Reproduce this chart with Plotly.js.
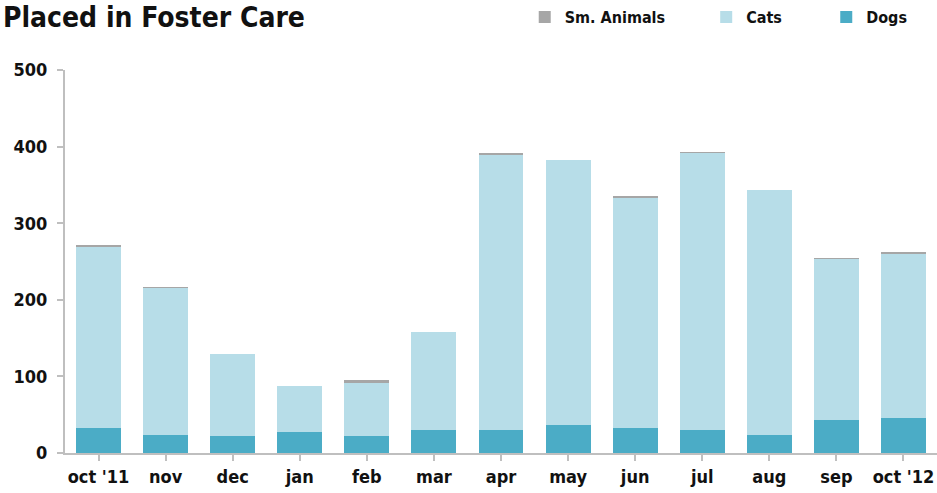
<!DOCTYPE html>
<html>
<head>
<meta charset="utf-8">
<script src="https://cdn.plot.ly/plotly-3.0.1.min.js"></script>
<style>html,body{margin:0;padding:0;background:#fff;}#chart{width:937px;height:493px;}</style>
</head>
<body>
<div id="chart"></div>
<script>
const months = ["oct '11","nov","dec","jan","feb","mar","apr","may","jun","jul","aug","sep","oct '12"];
const dogs = [32, 24, 22, 27, 22, 30, 30, 37, 33, 30, 24, 43, 46];
const cats = [237, 191, 107, 60, 70, 128, 359, 346, 300, 361, 320, 210, 214];
const smAnimals = [2, 2, 0, 0, 3, 0, 2, 0, 2, 2, 0, 2, 2];
const yTicks = [0, 100, 200, 300, 400, 500];

const cond = "'DejaVu Sans Condensed', 'Liberation Sans Narrow', sans-serif";
const legFont = {family: cond, size: 16, color: '#111', weight: 'bold'};

const traces = [
  {type:'bar', name:'Dogs', x:months, y:dogs, marker:{color:'#4BACC6'}, legend:'legend3', hoverinfo:'skip'},
  {type:'bar', name:'Cats', x:months, y:cats, marker:{color:'#B7DDE8'}, legend:'legend2', hoverinfo:'skip'},
  {type:'bar', name:'Sm. Animals', x:months, y:smAnimals, marker:{color:'#A6A6A6'}, legend:'legend', hoverinfo:'skip'}
];

const mkLegend = (xpx) => ({
  x: xpx/937, xref:'paper', xanchor:'left', y: 1, yref:'container', yanchor:'top',
  orientation:'h', font: legFont, bgcolor:'rgba(0,0,0,0)', itemwidth:30, tracegroupgap:0
});

const layout = {
  width: 937, height: 493,
  margin: {l: 65, r: 0, t: 70, b: 40},
  paper_bgcolor: '#fff', plot_bgcolor: '#fff',
  barmode: 'stack', bargap: 0.33,
  showlegend: true,
  legend: mkLegend(494),
  legend2: mkLegend(689),
  legend3: mkLegend(818),
  xaxis: {
    type:'category', showgrid:false, zeroline:false,
    showline:true, linecolor:'#BFBFBF', linewidth:2,
    ticks:'outside', ticklen:6, tickcolor:'#BFBFBF', tickwidth:2,
    tickfont:{family: cond, size:18, color:'#111', weight:'bold'}
  },
  yaxis: {
    range:[0, 500], tickvals: yTicks, ticktext: yTicks.map(String),
    showgrid:false, zeroline:false,
    showline:true, linecolor:'#BFBFBF', linewidth:2,
    ticks:'outside', ticklen:6, tickcolor:'#BFBFBF', tickwidth:2,
    tickfont:{family: cond, size:18, color:'#111', weight:'bold'},
    ticklabelstandoff: 6
  },
  annotations: [{
    text: '<b>Placed in Foster Care</b>', xref:'paper', yref:'paper',
    x: -64/872, xanchor:'left', y: 1 + 52/383, yanchor:'middle',
    showarrow:false, font:{family: cond, size:28, color:'#111'}
  }]
};

Plotly.newPlot('chart', traces, layout, {displayModeBar:false, staticPlot:true});
</script>
</body>
</html>
